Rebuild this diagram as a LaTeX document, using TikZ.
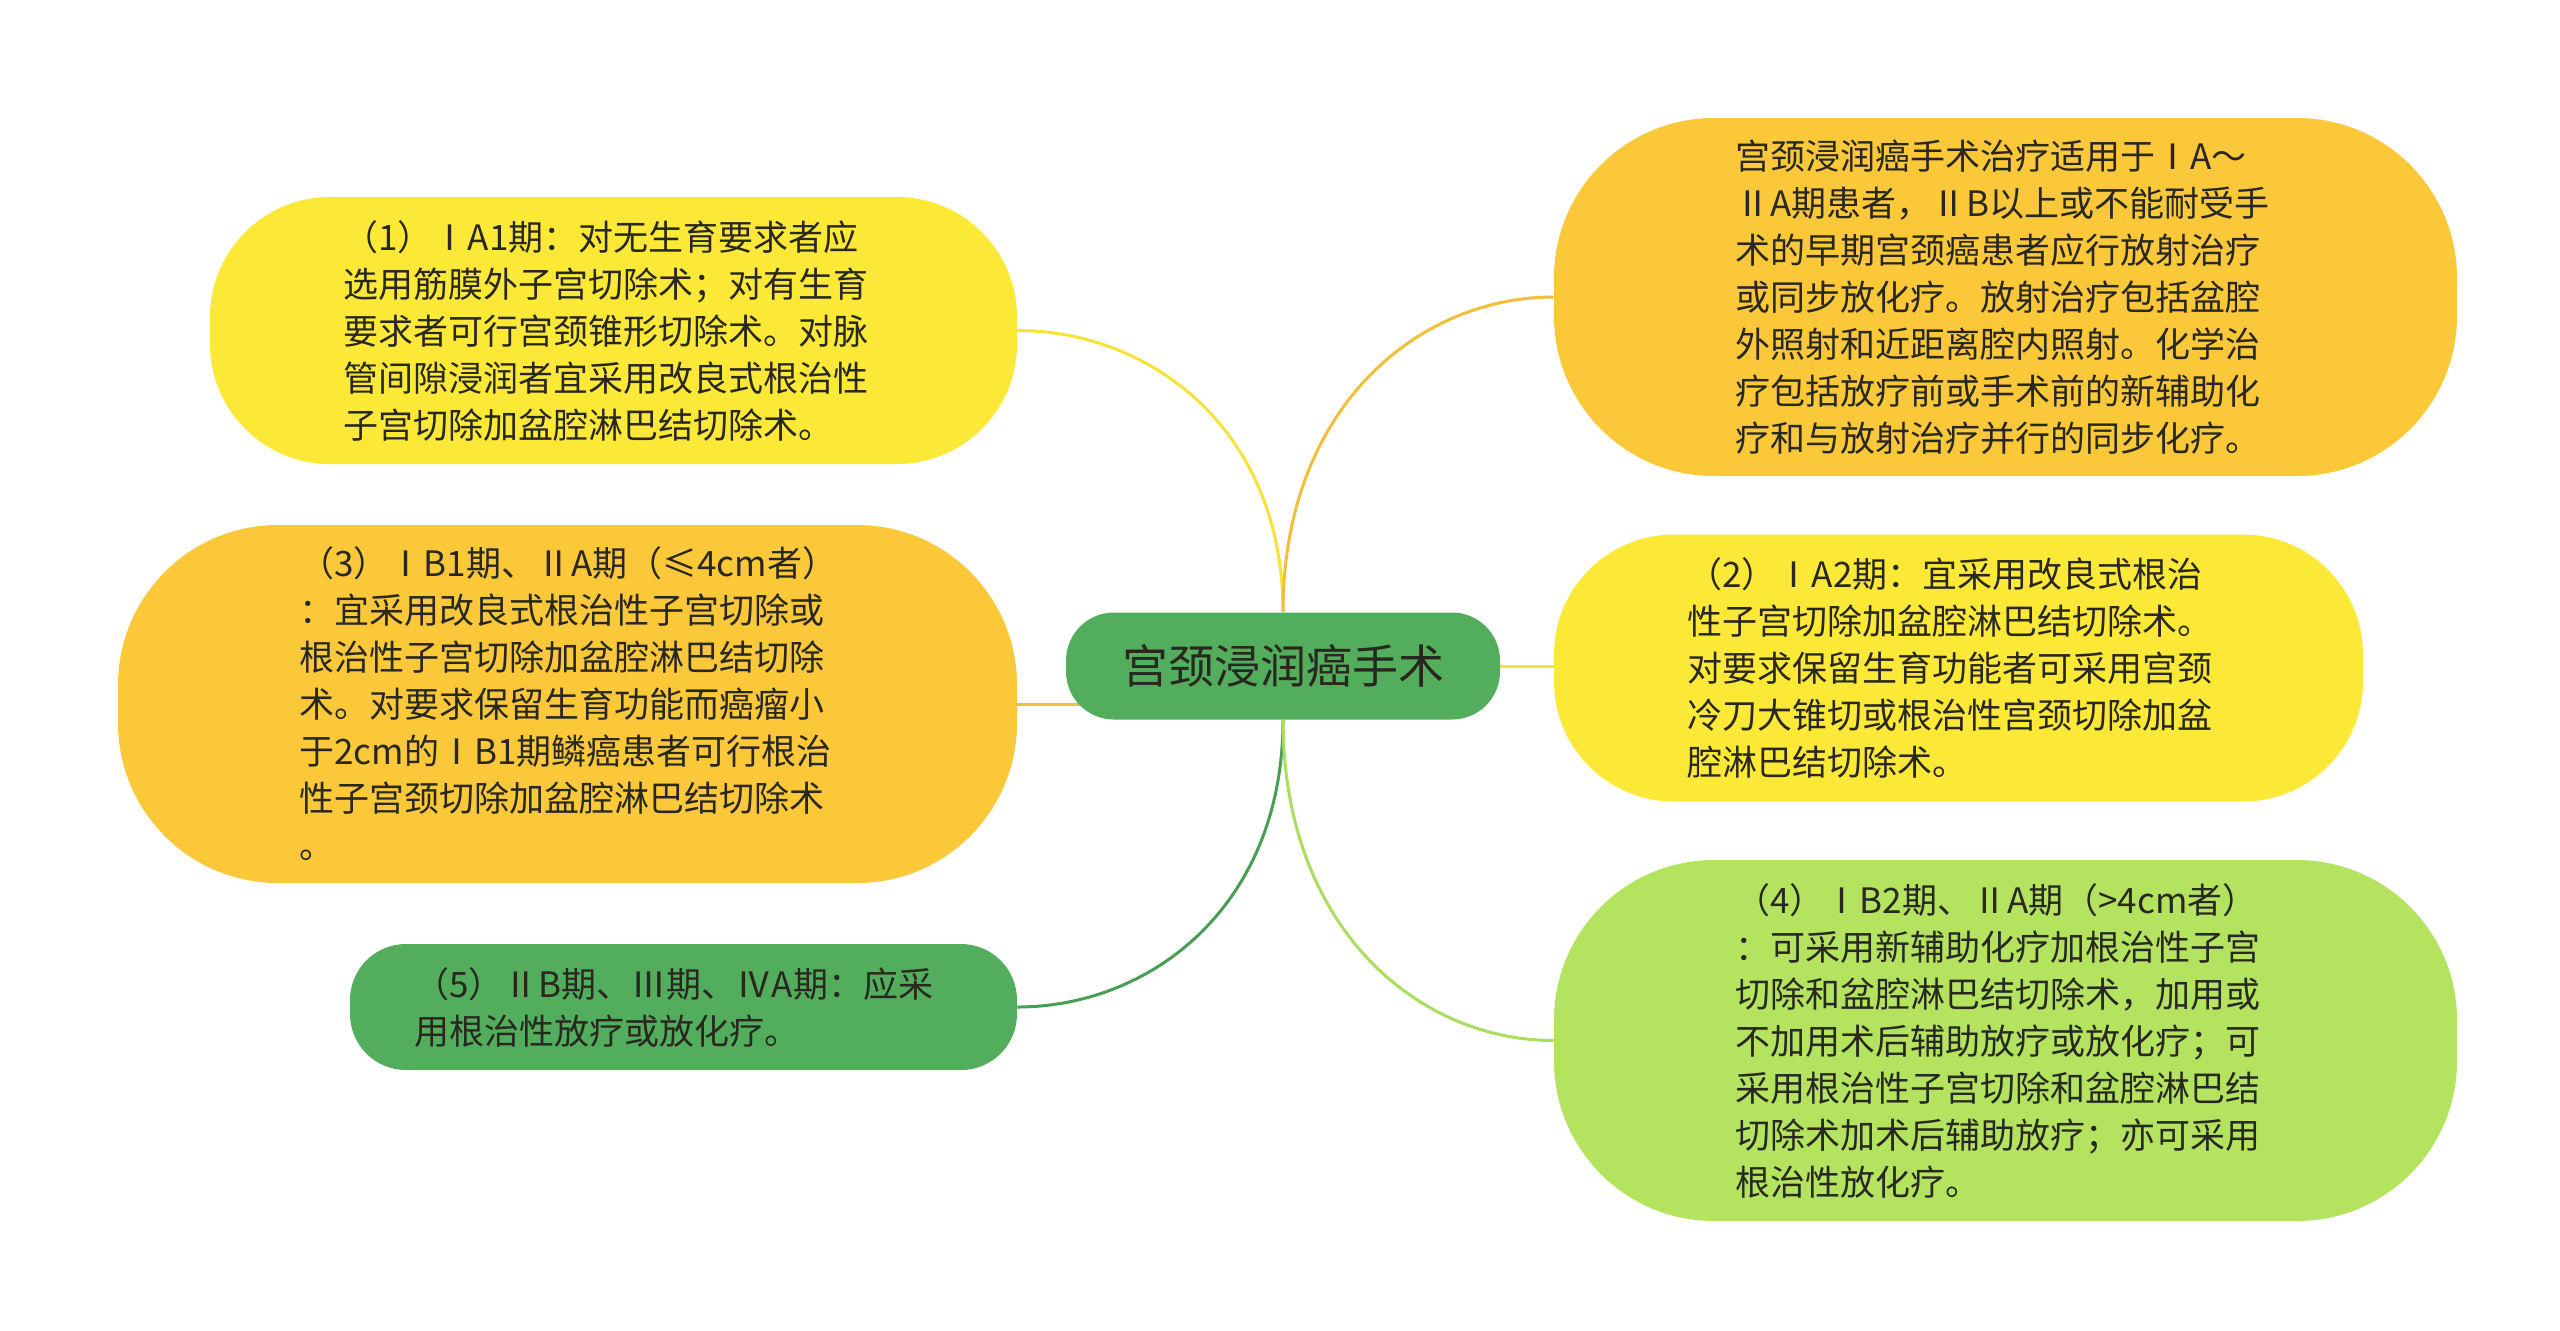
\documentclass[tikz,border=0pt]{standalone}
\usepackage{fontspec}
\setmainfont{Noto Sans CJK SC}
\usetikzlibrary{calc,backgrounds}
\definecolor{yel}{RGB}{252,233,55}
\definecolor{ora}{RGB}{251,200,58}
\definecolor{lgr}{RGB}{180,227,96}
\definecolor{dgr}{RGB}{82,174,92}
\definecolor{yelL}{RGB}{247,226,58}
\definecolor{oraL}{RGB}{243,190,58}
\definecolor{lgrL}{RGB}{170,222,94}
\definecolor{dgrL}{RGB}{72,158,82}
\definecolor{txt}{RGB}{40,40,32}
\tikzset{
  box/.style={rectangle, inner sep=0pt},
  label/.style={inner sep=0pt, align=left, text=txt, anchor=west,
    font=\fontsize{17.5}{23.5}\selectfont},
  link/.style={line width=1.5pt},
}
\begin{document}
\begin{tikzpicture}[x=0.5pt,y=-0.5pt]
\useasboundingbox (0,0) rectangle (2560,1330);

\node[box, fill=dgr, minimum width=217pt, minimum height=53.5pt, rounded corners=24pt,
  text=txt, font=\fontsize{23}{28}\selectfont] (c) at (1283,666) {宫颈浸润癌手术};

\node[box, fill=yel, minimum width=403.5pt, minimum height=133.5pt, rounded corners=60pt] (b1) at (613.5,330.5) {};
\node[label] (t1) at (343,330.5)
{（1）ⅠA1期：对无生育要求者应\\
选用筋膜外子宫切除术；对有生育\\
要求者可行宫颈锥形切除术。对脉\\
管间隙浸润者宜采用改良式根治性\\
子宫切除加盆腔淋巴结切除术。};

\node[box, fill=ora, minimum width=449.5pt, minimum height=179pt, rounded corners=80pt] (b3) at (567.5,704) {};
\node[label] (t3) at (299,704)
{（3）ⅠB1期、ⅡA期（≤4cm者）\\
：宜采用改良式根治性子宫切除或\\
根治性子宫切除加盆腔淋巴结切除\\
术。对要求保留生育功能而癌瘤小\\
于2cm的ⅠB1期鳞癌患者可行根治\\
性子宫颈切除加盆腔淋巴结切除术\\
。};

\node[box, fill=dgr, minimum width=333.5pt, minimum height=63pt, rounded corners=28pt] (b5) at (683.5,1007) {};
\node[label] (t5) at (414,1007)
{（5）ⅡB期、Ⅲ期、ⅣA期：应采\\
用根治性放疗或放化疗。};

\node[box, fill=ora, minimum width=451.5pt, minimum height=179pt, rounded corners=80pt] (b0) at (2005.5,297) {};
\node[label] (t0) at (1735,297)
{宫颈浸润癌手术治疗适用于ⅠA～\\
ⅡA期患者，ⅡB以上或不能耐受手\\
术的早期宫颈癌患者应行放射治疗\\
或同步放化疗。放射治疗包括盆腔\\
外照射和近距离腔内照射。化学治\\
疗包括放疗前或手术前的新辅助化\\
疗和与放射治疗并行的同步化疗。};

\node[box, fill=yel, minimum width=404.5pt, minimum height=133.5pt, rounded corners=60pt] (b2) at (1958.5,668) {};
\node[label] (t2) at (1687,668)
{（2）ⅠA2期：宜采用改良式根治\\
性子宫切除加盆腔淋巴结切除术。\\
对要求保留生育功能者可采用宫颈\\
冷刀大锥切或根治性宫颈切除加盆\\
腔淋巴结切除术。};

\node[box, fill=lgr, minimum width=451.5pt, minimum height=180.5pt, rounded corners=80pt] (b4) at (2005.5,1040.5) {};
\node[label] (t4) at (1735,1040.5)
{（4）ⅠB2期、ⅡA期（>4cm者）\\
：可采用新辅助化疗加根治性子宫\\
切除和盆腔淋巴结切除术，加用或\\
不加用术后辅助放疗或放化疗；可\\
采用根治性子宫切除和盆腔淋巴结\\
切除术加术后辅助放疗；亦可采用\\
根治性放化疗。};

\begin{scope}[on background layer]
\fill[white] (0,0) rectangle (2560,1330);
\draw[link, yelL] (c.north) .. controls ($(c.north)!0.65!(c.north |- b1.east)$) and ($(b1.east)!0.5!(c.north |- b1.east)$) .. (b1.east);
\draw[link, oraL] (c.north) .. controls ($(c.north)!0.65!(c.north |- b0.west)$) and ($(b0.west)!0.5!(c.north |- b0.west)$) .. (b0.west);
\draw[link, dgrL] (c.south) .. controls ($(c.south)!0.65!(c.south |- b5.east)$) and ($(b5.east)!0.5!(c.south |- b5.east)$) .. (b5.east);
\draw[link, lgrL] (c.south) .. controls ($(c.south)!0.65!(c.south |- b4.west)$) and ($(b4.west)!0.5!(c.south |- b4.west)$) .. (b4.west);
\draw[link, oraL] (b3.east) -- ($(b3.east -| c.west)+(30,0)$);
\draw[link, yelL] (c.east -| c.center) -- (c.east -| b2.west);
\end{scope}
\end{tikzpicture}
\end{document}
